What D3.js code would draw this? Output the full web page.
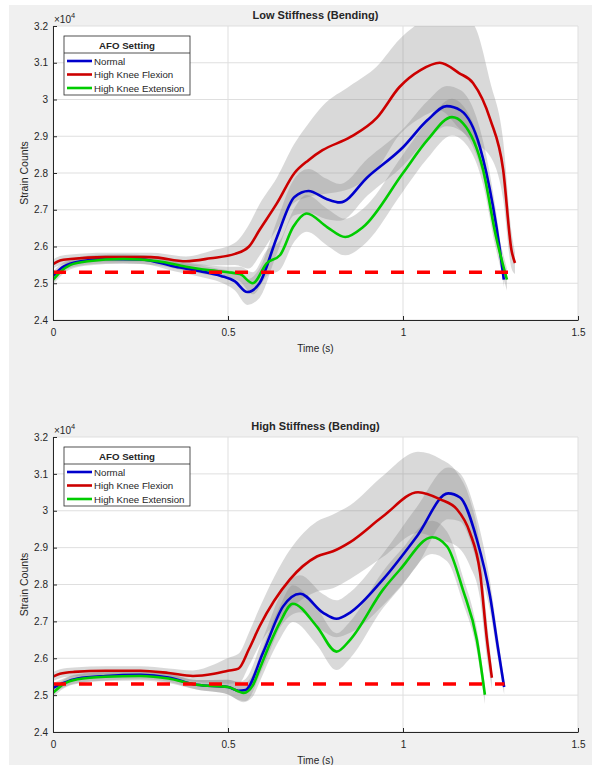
<!DOCTYPE html>
<html>
<head>
<meta charset="utf-8">
<script src="https://cdn.jsdelivr.net/npm/d3@7"></script>
<style>
  body { margin: 0; background: #ffffff; }
  text { font-family: "Liberation Sans", Arial, Helvetica, sans-serif; fill: #262626; }
</style>
</head>
<body>
<svg id="chart" width="592" height="765"></svg>
<script>
// ---- data (strain counts, time in s) ----
var seriesNames = ['Normal', 'High Knee Flexion', 'High Knee Extension'];
var seriesColors = ['#0000cc', '#cc0000', '#00cc00'];
var timeTicks = [0, 0.5, 1, 1.5];
var strainTicks = [24000, 25000, 26000, 27000, 28000, 29000, 30000, 31000, 32000];
var panelTitles = ['Low Stiffness (Bending)', 'High Stiffness (Bending)'];
var baselineValue = 25300;
var baselineEnd = [1.31, 1.29];

// Low stiffness
var lowNormalTime = [0, 0.03, 0.08, 0.15, 0.25, 0.35, 0.42, 0.48, 0.52, 0.555, 0.59, 0.64, 0.69, 0.73, 0.78, 0.82, 0.9, 1.0, 1.07, 1.125, 1.165, 1.22, 1.257, 1.277, 1.288];
var lowNormalMean = [25200, 25450, 25600, 25660, 25650, 25450, 25330, 25200, 25050, 24760, 25000, 26260, 27350, 27510, 27300, 27200, 27900, 28700, 29440, 29820, 29700, 28700, 27100, 25900, 25100];
var lowNormalSd = [120, 120, 120, 120, 120, 130, 150, 180, 250, 350, 400, 450, 500, 600, 550, 500, 500, 500, 520, 550, 550, 500, 400, 300, 200];

var lowFlexionTime = [0, 0.02, 0.05, 0.15, 0.28, 0.38, 0.45, 0.52, 0.56, 0.59, 0.64, 0.69, 0.73, 0.77, 0.85, 0.925, 0.99, 1.05, 1.105, 1.16, 1.2, 1.25, 1.286, 1.31, 1.32];
var lowFlexionMean = [25520, 25620, 25660, 25710, 25710, 25600, 25680, 25800, 26000, 26450, 27180, 28000, 28350, 28620, 28980, 29500, 30340, 30800, 31000, 30720, 30450, 29440, 28100, 25900, 25550];
var lowFlexionSd = [120, 120, 120, 120, 120, 130, 200, 300, 600, 700, 700, 800, 1000, 1200, 1400, 1400, 1300, 1300, 1300, 1500, 1600, 1000, 800, 500, 300];

var lowExtensionTime = [0, 0.02, 0.05, 0.1, 0.2, 0.3, 0.38, 0.45, 0.5, 0.534, 0.571, 0.611, 0.649, 0.686, 0.725, 0.783, 0.835, 0.886, 1.0, 1.07, 1.14, 1.171, 1.229, 1.265, 1.297];
var lowExtensionMean = [25090, 25300, 25500, 25600, 25660, 25600, 25450, 25350, 25300, 25250, 25000, 25550, 25770, 26530, 26900, 26530, 26260, 26530, 28000, 28900, 29520, 29360, 28080, 26300, 25100];
var lowExtensionSd = [120, 120, 120, 120, 120, 120, 120, 130, 150, 200, 300, 350, 400, 450, 500, 500, 500, 500, 500, 500, 500, 480, 400, 350, 300];

// High stiffness
var highNormalTime = [0, 0.03, 0.07, 0.15, 0.25, 0.33, 0.41, 0.5, 0.53, 0.55, 0.6, 0.657, 0.706, 0.771, 0.81, 0.849, 0.943, 1.04, 1.129, 1.163, 1.211, 1.249, 1.271, 1.289];
var highNormalMean = [25200, 25330, 25450, 25520, 25550, 25480, 25280, 25220, 25120, 25140, 26150, 27400, 27750, 27240, 27070, 27240, 28140, 29310, 30470, 30360, 29220, 27670, 26300, 25220];
var highNormalSd = [120, 120, 120, 120, 120, 120, 130, 200, 250, 300, 400, 450, 500, 500, 500, 550, 700, 800, 700, 650, 600, 400, 300, 200];

var highFlexionTime = [0, 0.02, 0.06, 0.15, 0.25, 0.33, 0.4, 0.46, 0.5, 0.53, 0.56, 0.59, 0.677, 0.754, 0.8, 0.849, 0.943, 1.043, 1.106, 1.154, 1.191, 1.22, 1.24, 1.254];
var highFlexionMean = [25500, 25580, 25630, 25660, 25660, 25600, 25520, 25580, 25660, 25720, 26250, 26860, 28140, 28760, 28900, 29150, 29850, 30500, 30310, 30040, 29410, 28330, 26500, 25470];
var highFlexionSd = [120, 120, 120, 120, 120, 120, 150, 250, 350, 400, 450, 500, 800, 950, 1000, 1000, 1100, 1100, 1100, 1000, 900, 700, 500, 300];

var highExtensionTime = [0, 0.03, 0.07, 0.15, 0.25, 0.33, 0.41, 0.5, 0.545, 0.57, 0.59, 0.62, 0.65, 0.685, 0.754, 0.81, 0.849, 0.943, 0.991, 1.083, 1.126, 1.171, 1.211, 1.234];
var highExtensionMean = [25060, 25300, 25430, 25500, 25520, 25450, 25280, 25220, 25060, 25250, 25700, 26400, 27000, 27480, 26860, 26180, 26500, 27860, 28400, 29280, 29030, 27860, 26500, 25010];
var highExtensionSd = [120, 120, 120, 120, 120, 120, 130, 200, 250, 300, 350, 400, 450, 500, 500, 500, 500, 500, 500, 450, 400, 350, 300, 250];

var W = 592, H = 765;
var svg = d3.select('#chart');

// figure background
svg.append('rect').attr('x', 9).attr('y', 5).attr('width', W - 9).attr('height', H - 5).attr('fill', '#f0f0f0');

function rows(time, mean, sd){
	return time.map(function(t, i){ return {t: t, m: mean[i], s: sd[i]}; });
}

var panels = [
	{top: 26, bottom: 320, title: panelTitles[0], baseEnd: baselineEnd[0],
	 series: [rows(lowNormalTime, lowNormalMean, lowNormalSd), rows(lowFlexionTime, lowFlexionMean, lowFlexionSd), rows(lowExtensionTime, lowExtensionMean, lowExtensionSd)]},
	{top: 437, bottom: 732, title: panelTitles[1], baseEnd: baselineEnd[1],
	 series: [rows(highNormalTime, highNormalMean, highNormalSd), rows(highFlexionTime, highFlexionMean, highFlexionSd), rows(highExtensionTime, highExtensionMean, highExtensionSd)]}
];

var left = 53, right = 578;

panels.forEach(function(p, pi){
	var xScale = d3.scaleLinear().domain([0, 1.5]).range([left, right]);
	var yScale = d3.scaleLinear().domain([24000, 32000]).range([p.bottom, p.top]);
	var g = svg.append('g');

	// plot area
	g.append('rect').attr('x', left).attr('y', p.top).attr('width', right - left).attr('height', p.bottom - p.top).attr('fill', '#ffffff');

	g.append('clipPath').attr('id', 'clip' + pi).append('rect')
		.attr('x', left).attr('y', p.top).attr('width', right - left).attr('height', p.bottom - p.top);

	//Grid
	g.selectAll('line.gx').data(timeTicks).enter().append('line')
		.attr('x1', function(d){ return xScale(d); }).attr('x2', function(d){ return xScale(d); })
		.attr('y1', p.top).attr('y2', p.bottom)
		.attr('stroke', '#dfdfdf').attr('stroke-width', 1);
	g.selectAll('line.gy').data(strainTicks).enter().append('line')
		.attr('x1', left).attr('x2', right)
		.attr('y1', function(d){ return yScale(d); }).attr('y2', function(d){ return yScale(d); })
		.attr('stroke', '#dfdfdf').attr('stroke-width', 1);

	var plot = g.append('g').attr('clip-path', 'url(#clip' + pi + ')');

	//Bands (mean +- sd)
	var area = d3.area()
		.x(function(d){ return xScale(d.t); })
		.y0(function(d){ return yScale(d.m - d.s); })
		.y1(function(d){ return yScale(d.m + d.s); })
		.curve(d3.curveMonotoneX);
	p.series.forEach(function(s){
		plot.append('path').datum(s).attr('d', area)
			.attr('fill', '#808080').attr('fill-opacity', 0.3);
	});

	//Mean lines
	var line = d3.line()
		.x(function(d){ return xScale(d.t); })
		.y(function(d){ return yScale(d.m); })
		.curve(d3.curveMonotoneX);
	p.series.forEach(function(s, i){
		plot.append('path').datum(s).attr('d', line)
			.attr('fill', 'none').attr('stroke', seriesColors[i]).attr('stroke-width', 2.6);
	});

	//Baseline
	plot.append('line')
		.attr('x1', xScale(0)).attr('x2', xScale(p.baseEnd))
		.attr('y1', yScale(baselineValue)).attr('y2', yScale(baselineValue))
		.attr('stroke', '#ff0000').attr('stroke-width', 3.5).attr('stroke-dasharray', '13,13');

	//Axes
	var xAxis = d3.axisBottom(xScale).tickValues(timeTicks).tickFormat(function(d){ return d; })
		.tickSizeInner(-4).tickSizeOuter(0).tickPadding(9);
	var yAxis = d3.axisLeft(yScale).tickValues(strainTicks).tickFormat(function(d){ return +(d / 10000).toFixed(1); })
		.tickSizeInner(-4).tickSizeOuter(0).tickPadding(5);

	var gx = g.append('g').attr('transform', 'translate(0,' + p.bottom + ')').call(xAxis);
	var gy = g.append('g').attr('transform', 'translate(' + left + ',0)').call(yAxis);
	[gx, gy].forEach(function(a){
		a.select('.domain').attr('stroke', '#262626').attr('stroke-width', 1);
		a.selectAll('.tick line').attr('stroke', '#262626');
		a.selectAll('.tick text').attr('fill', '#262626').style('font-size', '10px').style('font-family', '"Liberation Sans", Arial, sans-serif');
	});

	//Exponent
	var ex = g.append('text').attr('x', left + 1).attr('y', p.top - 3).style('font-size', '10px');
	ex.append('tspan').text('\u00d710');
	ex.append('tspan').attr('dy', -5).style('font-size', '7.5px').text('4');

	//Title and labels
	g.append('text').attr('x', (left + right) / 2).attr('y', p.top - 7)
		.attr('text-anchor', 'middle').style('font-size', '11px').style('font-weight', 'bold').text(p.title);
	g.append('text').attr('x', (left + right) / 2).attr('y', p.bottom + 32)
		.attr('text-anchor', 'middle').style('font-size', '10px').text('Time (s)');
	g.append('text').attr('transform', 'translate(28,' + ((p.top + p.bottom) / 2) + ') rotate(-90)')
		.attr('text-anchor', 'middle').style('font-size', '10.5px').text('Strain Counts');

	//Legend
	var lx = 64, ly = p.top + 10;
	var leg = g.append('g').attr('transform', 'translate(' + lx + ',' + ly + ')');
	leg.append('rect').attr('x', 0).attr('y', 0).attr('width', 126).attr('height', 59)
		.attr('fill', '#ffffff').attr('stroke', '#262626').attr('stroke-width', 0.8);
	leg.append('text').attr('x', 63).attr('y', 13).attr('text-anchor', 'middle')
		.style('font-size', '9.7px').style('font-weight', 'bold').text('AFO Setting');
	leg.append('line').attr('x1', 0).attr('x2', 126).attr('y1', 17).attr('y2', 17)
		.attr('stroke', '#262626').attr('stroke-width', 0.8);
	seriesNames.forEach(function(n, i){
		var yy = 25 + i * 13.5;
		leg.append('line').attr('x1', 3).attr('x2', 28).attr('y1', yy).attr('y2', yy)
			.attr('stroke', seriesColors[i]).attr('stroke-width', 2.6);
		leg.append('text').attr('x', 30).attr('y', yy + 3.5).style('font-size', '9.7px').text(n);
	});
});
</script>
</body>
</html>
